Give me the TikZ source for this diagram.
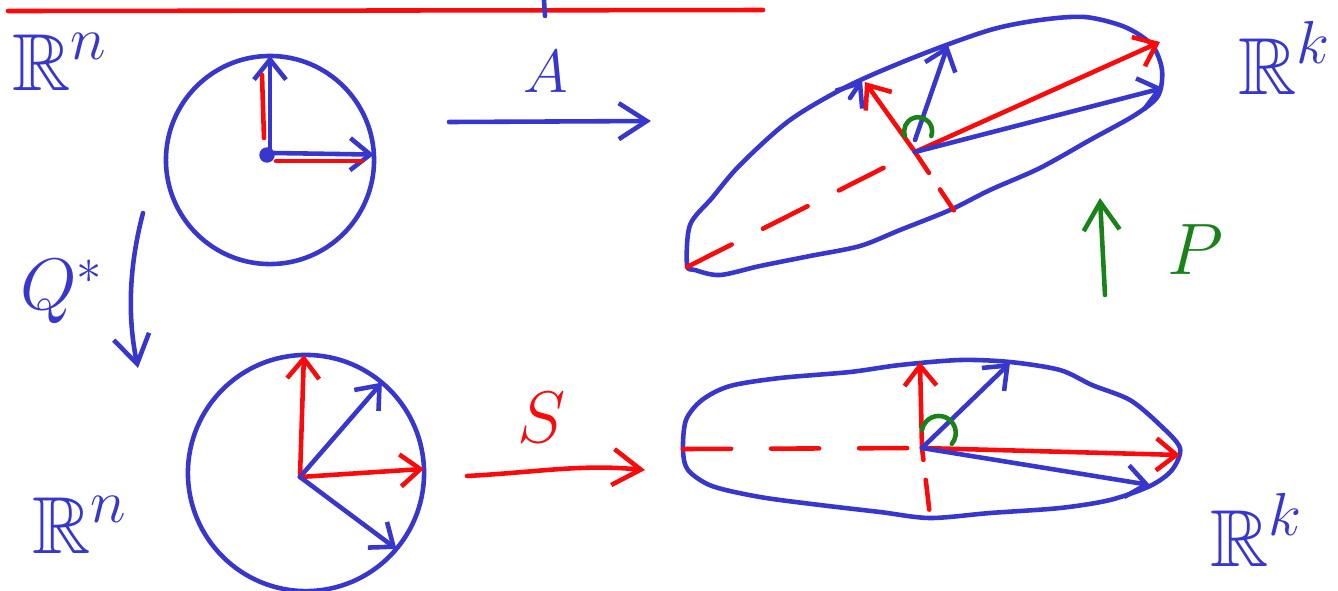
\documentclass[tikz,border=0pt]{standalone}
\usepackage{amssymb}
\usetikzlibrary{arrows.meta}
\definecolor{penblue}{RGB}{55,55,205}
\definecolor{penred}{RGB}{250,10,10}
\definecolor{pengreen}{RGB}{25,130,25}

\begin{document}
\begin{tikzpicture}[x=0.01cm, y=-0.01cm,
        pen/.style={line width=1.3pt, line cap=round, line join=round},
        ink/.style={pen, draw=penblue},
        redink/.style={pen, draw=penred},
        greenink/.style={pen, draw=pengreen},
        vec/.style={-{Straight Barb[length=2mm, width=3.2mm]}},
        flow/.style={-{Straight Barb[length=2.8mm, width=3.6mm]}},
        axisdash/.style={redink, dash pattern=on 0.5cm off 0.35cm},
        disc/.style={circle, draw=penblue, line width=1.3pt, inner sep=0pt, outer sep=0pt},
        lbl/.style={text=penblue, inner sep=0pt, font=\fontsize{23}{26}\selectfont}
    ]
        \useasboundingbox (0,0) rectangle (1338,590);

        % top line
        \draw[redink] (8,11) -- (763,10);
        \draw[ink] (544,0) -- (545,16);

        % labels
        \node[lbl] (rn1) at (60,62) {$\mathbb{R}^n$};
        \node[lbl] (rn2) at (80,525) {$\mathbb{R}^n$};
        \node[lbl] (rk1) at (1285,58) {$\mathbb{R}^k$};
        \node[lbl] (rk2) at (1257,530) {$\mathbb{R}^k$};
        \node[lbl, font=\fontsize{19}{22}\selectfont] (labA) at (546,72) {$A$};
        \node[lbl, font=\fontsize{21}{24}\selectfont] (labQ) at (62,292) {$Q^*$};
        \node[lbl, text=penred, font=\fontsize{21}{24}\selectfont] (labS) at (542,418) {$S$};
        \node[lbl, text=pengreen, font=\fontsize{21}{24}\selectfont] (labP) at (1195,250) {$P$};

        % unit circles
        \node[disc, minimum size=2.08cm] (c1) at (270,160) {};
        \node[disc, minimum size=2.36cm] (c2) at (306,473) {};
        \coordinate (o1) at (270,152);
        \coordinate (o2) at (300,477);

        \fill[penblue] (267,155) circle (2.2pt);
        \draw[ink, vec] (o1) -- (c1.north);
        \draw[ink, vec] (274,153) -- (c1.3);
        \draw[redink] (264,138) -- (262,75);
        \draw[redink] (276,161) -- (362,161);

        \draw[redink, vec] (o2) -- (c2.91);
        \draw[ink, vec] (o2) -- (c2.50);
        \draw[redink, vec] (o2) -- (c2.2);
        \draw[ink, vec] (o2) -- (c2.-40);

        % maps
        \coordinate (a1) at (449,122);
        \coordinate (a2) at (651,121);
        \draw[ink, flow] (a1) -- (a2);

        \coordinate (q1) at (143,213);
        \coordinate (q2) at (138,368);
        \draw[ink, flow] (q1) .. controls (128,270) and (128,320) .. (q2);

        \coordinate (s1) at (467,476);
        \coordinate (s2) at (645,470);
        \draw[redink, flow] (s1) .. controls (540,472) and (580,464) .. (s2);

        \coordinate (p1) at (1105,295);
        \coordinate (p2) at (1100,198);
        \draw[greenink, flow] (p1) -- (p2);

        % tilted ellipse
        \draw[ink] plot[smooth cycle] coordinates {
            (687,265) (690,225) (712,198) (740,165) (790,120) (850,85)
            (920,55) (990,30) (1040,20) (1085,17) (1125,27) (1152,45)
            (1162,70) (1158,96) (1135,115) (1090,140) (1040,168) (990,190)
            (950,210) (900,230) (860,246) (810,256) (760,266) (720,275) (695,270)};
        \coordinate (e1) at (915,152);
        \coordinate (e1maj) at (1160,42);
        \coordinate (e1min) at (865,82);
        \coordinate (e1tip) at (687,267);
        \coordinate (e1low) at (957,215);
        \coordinate (e1s) at (915,140);
        \coordinate (e1u) at (948,45);
        \coordinate (e1v) at (1163,88);

        \draw[axisdash] (e1tip) -- (e1);
        \draw[redink, dash pattern=on 0.25cm off 0.2cm] (e1) -- (e1low);
        \draw[redink, vec] (e1) -- (e1maj);
        \draw[redink, vec] (e1) -- (e1min);
        \draw[ink, vec] (e1s) -- (e1u);
        \draw[ink, vec] (e1) -- (e1v);
        \draw[ink, vec] (850,98) -- (862,80);
        \draw[greenink] (905,136) arc[start angle=200, end angle=-20, radius=0.14cm];

        % flat ellipse
        \draw[ink] plot[smooth cycle] coordinates {
            (683,450) (686,420) (702,400) (730,386) (780,378) (850,372)
            (900,365) (960,360) (1010,362) (1060,370) (1092,385) (1130,400)
            (1160,425) (1180,448) (1172,470) (1150,486) (1110,500) (1060,508)
            (990,513) (930,518) (880,512) (820,505) (760,497) (712,486) (688,470)};
        \coordinate (e2) at (922,448);
        \coordinate (e2maj) at (1180,455);
        \coordinate (e2min) at (920,362);
        \coordinate (e2tip) at (683,449);
        \coordinate (e2low) at (930,516);
        \coordinate (e2u) at (1010,363);
        \coordinate (e2v) at (1150,485);

        \draw[axisdash, dash pattern=on 0.48cm off 0.4cm] (e2tip) -- (e2);
        \draw[redink, dash pattern=on 0.12cm off 0.2cm on 0.3cm] (e2) -- (e2low);
        \draw[redink, vec] (e2) -- (e2maj);
        \draw[redink, vec] (e2) -- (e2min);
        \draw[ink, vec] (e2) -- (e2u);
        \draw[ink, vec] (e2) -- (e2v);
        \draw[greenink] (922,430) arc[start angle=170, end angle=-40, radius=0.17cm];
    \end{tikzpicture}
\end{document}
